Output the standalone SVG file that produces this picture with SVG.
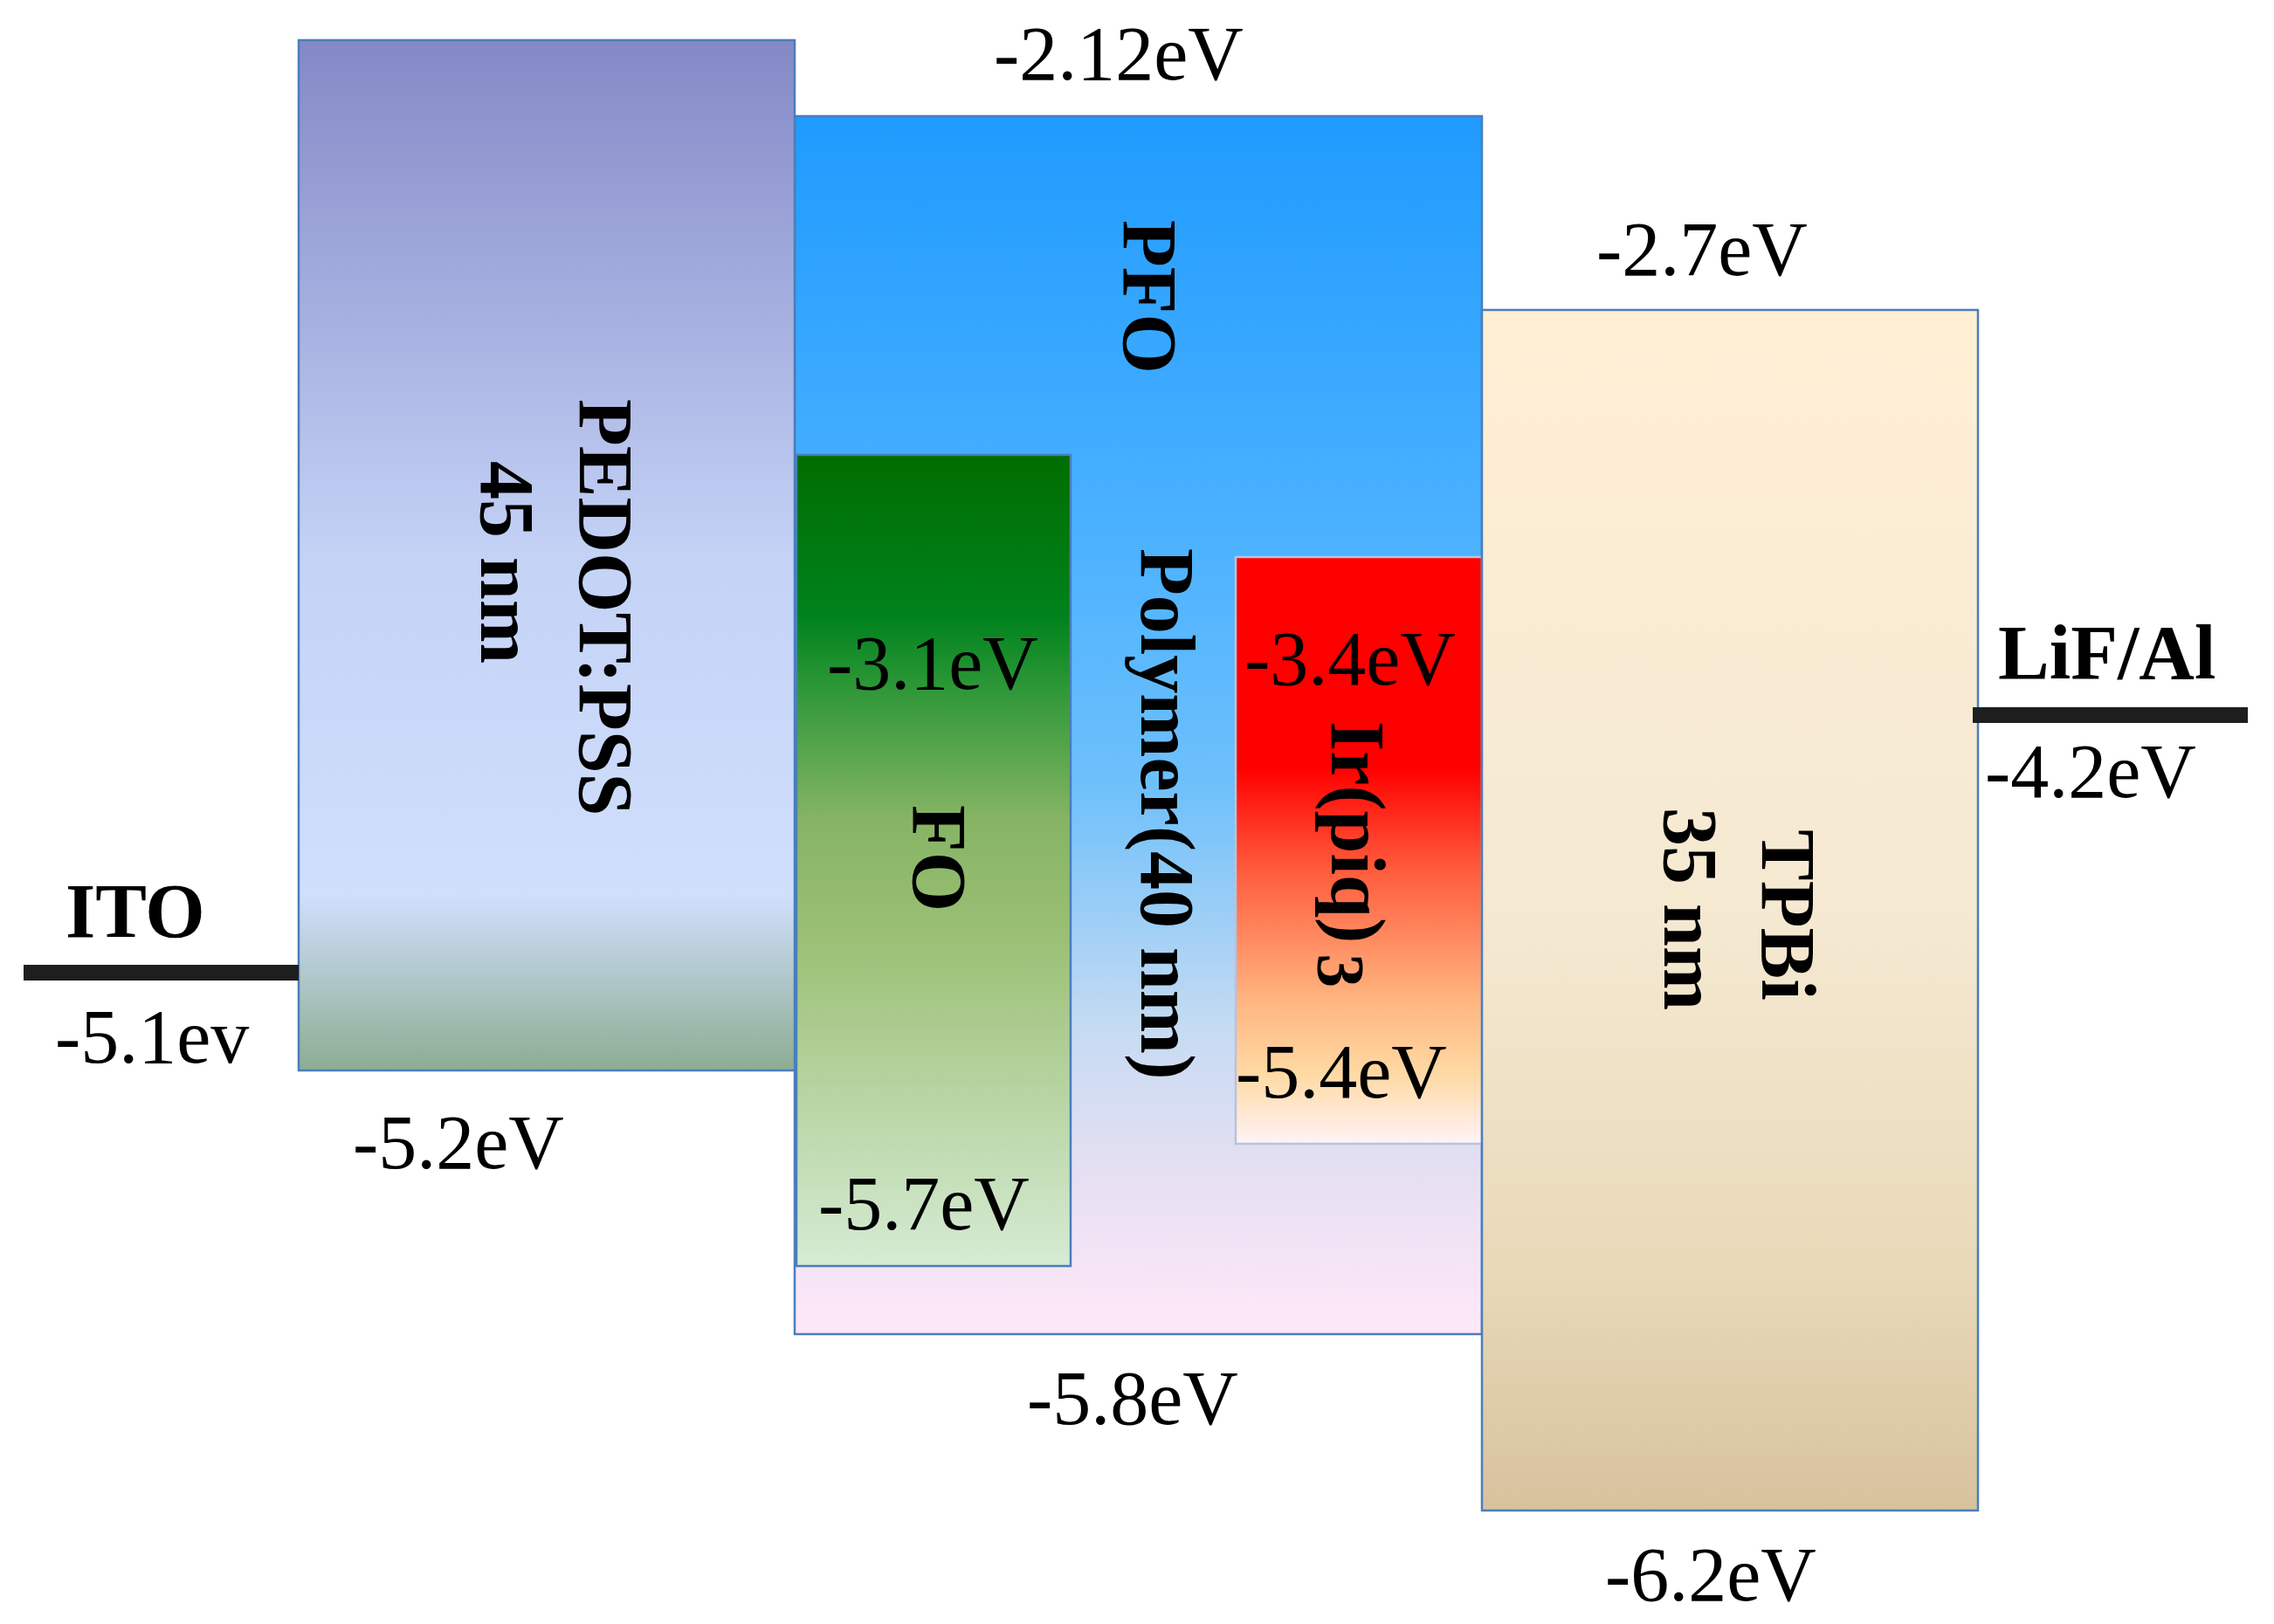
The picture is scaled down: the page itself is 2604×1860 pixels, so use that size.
<svg xmlns="http://www.w3.org/2000/svg" width="2604" height="1860" viewBox="0 0 2604 1860">
<defs>
<linearGradient id="gPedot" x1="0" y1="0" x2="0" y2="1">
<stop offset="0" stop-color="#8489C6"/>
<stop offset="0.5" stop-color="#C4D2F6"/>
<stop offset="0.83" stop-color="#D0DFFC"/>
<stop offset="1" stop-color="#8CAD92"/>
</linearGradient>
<linearGradient id="gPfo" x1="0" y1="0" x2="0" y2="1">
<stop offset="0" stop-color="#1F9BFE"/>
<stop offset="0.35" stop-color="#4CB2FF"/>
<stop offset="0.55" stop-color="#6EC0FB"/>
<stop offset="0.75" stop-color="#C6DBF2"/>
<stop offset="0.86" stop-color="#E4DFF2"/>
<stop offset="1" stop-color="#FFE8F8"/>
</linearGradient>
<linearGradient id="gFo" x1="0" y1="0" x2="0" y2="1">
<stop offset="0" stop-color="#006E00"/>
<stop offset="0.2" stop-color="#00821C"/>
<stop offset="0.28" stop-color="#2A9636"/>
<stop offset="0.45" stop-color="#86B464"/>
<stop offset="0.6" stop-color="#9CC076"/>
<stop offset="1" stop-color="#D6EBD4"/>
</linearGradient>
<linearGradient id="gIr" x1="0" y1="0" x2="0" y2="1">
<stop offset="0" stop-color="#FF0000"/>
<stop offset="0.36" stop-color="#FF0000"/>
<stop offset="0.53" stop-color="#FF5A3C"/>
<stop offset="0.75" stop-color="#FFB37E"/>
<stop offset="0.88" stop-color="#FFD9A3"/>
<stop offset="1" stop-color="#FFF3F6"/>
</linearGradient>
<linearGradient id="gTpbi" x1="0" y1="0" x2="0" y2="1">
<stop offset="0" stop-color="#FFEFD5"/>
<stop offset="0.5" stop-color="#F5E9D2"/>
<stop offset="0.8" stop-color="#E8D9B8"/>
<stop offset="1" stop-color="#D7C29D"/>
</linearGradient>
</defs>
<style>
.box{stroke:#4A7EBB;stroke-width:2.5}
.lbl{font-family:"Liberation Serif","Times New Roman",serif;font-size:88px;fill:#000}
.nm{font-family:"Liberation Serif","Times New Roman",serif;font-size:88px;font-weight:bold;fill:#000}
.elec{stroke:#1E1E1E;stroke-width:18}
</style>
<rect width="2604" height="1860" fill="#FFFFFF"/>

<g id="pfo">
<rect class="box" x="910" y="133" width="787" height="1395" fill="url(#gPfo)"/>
<text class="nm" transform="translate(1287,252) rotate(90)">PFO</text>
<text class="nm" transform="translate(1307,628) rotate(90)">Polymer(40 nm)</text>
<text class="lbl" x="1138" y="91">-2.12eV</text>
<text class="lbl" x="1176" y="1631">-5.8eV</text>
</g>

<g id="pedot">
<rect class="box" x="342" y="46" width="568" height="1180" fill="url(#gPedot)"/>
<text class="nm" transform="translate(664,457) rotate(90)">PEDOT:PSS</text>
<text class="nm" transform="translate(551,528) rotate(90)">45 nm</text>
<text class="lbl" x="404" y="1338">-5.2eV</text>
</g>

<g id="fo">
<rect class="box" x="912" y="521" width="314" height="929" fill="url(#gFo)"/>
<text class="nm" transform="translate(1046,922) rotate(90)">FO</text>
<text class="lbl" x="947" y="789">-3.1eV</text>
<text class="lbl" x="937" y="1408">-5.7eV</text>
</g>

<g id="ir">
<rect x="1415" y="638" width="282" height="672" fill="url(#gIr)" stroke="#B8C2DE" stroke-width="2.5"/>
<text class="nm" transform="translate(1525,826) rotate(90)">Ir(piq)<tspan style="font-size:78px" dx="12" dy="16">3</tspan></text>
<text class="lbl" x="1425" y="784">-3.4eV</text>
<text class="lbl" x="1415" y="1257">-5.4eV</text>
</g>

<g id="tpbi">
<rect class="box" x="1697" y="355" width="568" height="1375" fill="url(#gTpbi)"/>
<text class="nm" transform="translate(2018,950) rotate(90)">TPBi</text>
<text class="nm" transform="translate(1906,925) rotate(90)">35 nm</text>
<text class="lbl" x="1828" y="315">-2.7eV</text>
<text class="lbl" x="1838" y="1833">-6.2eV</text>
</g>

<g id="ito">
<line class="elec" x1="27" y1="1114" x2="342" y2="1114"/>
<text class="nm" x="75" y="1073">ITO</text>
<text class="lbl" x="63" y="1217">-5.1ev</text>
</g>

<g id="lifal">
<line class="elec" x1="2259" y1="819" x2="2574" y2="819"/>
<text class="nm" x="2288" y="777">LiF/Al</text>
<text class="lbl" x="2273" y="913">-4.2eV</text>
</g>

<g id="connectors"/>
</svg>
